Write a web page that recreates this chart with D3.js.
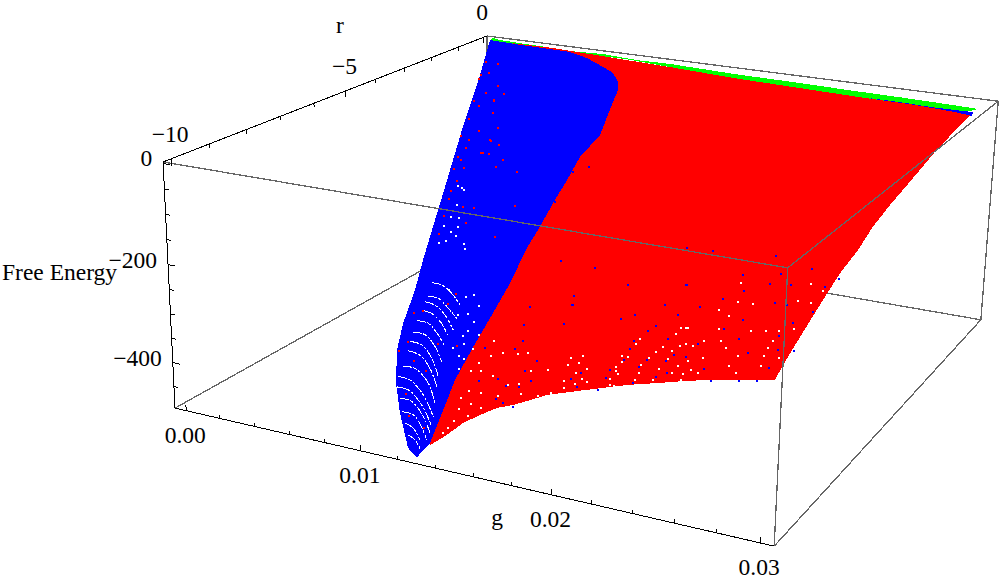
<!DOCTYPE html>
<html>
<head>
<meta charset="utf-8">
<script src="https://cdn.jsdelivr.net/npm/d3@7"></script>
<style>
  html, body { margin: 0; background: #fff; }
  text { font-family: "Liberation Serif", serif; font-size: 23.5px; fill: #000; }
</style>
</head>
<body>
<svg id="chart" width="1000" height="582"></svg>
<script>
const gDomain = [-0.00067, 0.03064];
const rDomain = [-10.2, 0.15];
const fDomain = [-495, 3];
const gTicks = [0, .002, .004, .006, .008, .01, .012, .014, .016, .018, .02, .022, .024, .026, .028, .03];
const rTicks = [0, -1, -2, -3, -4, -5, -6, -7, -8, -9, -10];
const fTicks = [0, -50, -100, -150, -200, -250, -300, -350, -400, -450];
const gLabels = [[0, '0.00'], [.01, '0.01'], [.02, '0.02'], [.03, '0.03']];
const rLabels = [[0, '0'], [-5, '\u22125'], [-10, '\u221210']];
const fLabels = [[0, '0'], [-200, '\u2212200'], [-400, '\u2212400']];

// surface outlines, each vertex is [r, g, free energy]
const greenBand = [[-0.1,.00009,8],[0,.00047,2],[0,.00229,0],[0,.00402,-1],[-0.1,.00529,0],[0,.00729,0],[-0.1,.00962,-1],[-0.1,.0117,0],[-0.2,.01584,-1],[-0.3,.01984,1],[-0.3,.02275,-1],[-0.3,.0256,-2],[-0.4,.02754,0],[-0.5,.0301,1],[-0.7,.02968,-2],[-0.7,.02414,-1],[-0.6,.02018,-1],[-0.5,.01621,-1],[-0.3,.01197,-1],[-0.1,.00898,-2],[-0.2,.00759,1],[-0.2,.00545,-2],[-0.1,.00245,-1],[-0.1,.00064,-2],[-0.3,.00029,3]];
const redRegion = [[0,.00135,-2],[0,.00402,-1],[-0.2,.00759,1],[-0.3,.01197,-1],[-0.5,.01621,-1],[-0.6,.02018,-1],[-0.7,.02414,-1],[-0.7,.02968,-2],[-0.9,.03002,-2],[-2.76,.03,-22],[-4.17,.03,-45],[-5.15,.03,-60],[-5.95,.03,-76],[-6.6,.03,-98],[-7.5,.03012,-109],[-8.2,.03013,-132],[-9.1,.03013,-165],[-9.8,.0302,-186],[-10.1,.03021,-200],[-10.1,.02865,-212],[-10.1,.02638,-231],[-10.1,.02499,-246],[-10.1,.02344,-262],[-10.1,.02153,-286],[-10.1,.01957,-311],[-10.1,.01872,-328],[-10.1,.01787,-344],[-10.1,.01706,-356],[-10.1,.01618,-377],[-10.1,.0153,-400],[-10.1,.01446,-430],[-10.1,.01356,-458],[-9,.01124,-426],[-7.4,.01049,-311],[-4.1,.01086,-90]];
const blueRegion = [[-0.3,.00029,8],[-0.1,.00165,0],[-0.1,.00312,-1],[-0.2,.00545,1],[-0.4,.00685,-2],[-0.8,.00847,-5],[-1.1,.00954,-6],[-1.5,.01044,-12],[-1.9,.01102,-17],[-2.4,.01144,-29],[-3,.01197,-43],[-3.6,.01245,-63],[-4.3,.01233,-91],[-5,.01266,-117],[-5.6,.0128,-146],[-6.2,.01301,-174],[-6.7,.01309,-200],[-7.4,.01329,-246],[-8,.01335,-284],[-8.6,.01327,-330],[-9.1,.01315,-376],[-9.7,.0135,-413],[-10.1,.01356,-454],[-10.1,.01286,-488],[-10,.0122,-480],[-8.9,.00974,-480],[-7.8,.00748,-482],[-7.2,.00645,-444],[-6.9,.00627,-400],[-6.1,.00554,-363],[-5.5,.00496,-322],[-4.8,.00433,-277],[-4.1,.00367,-236],[-3.3,.00297,-181],[-2.6,.00234,-135],[-2,.00184,-96],[-1.1,.00097,-53],[-0.5,.00043,-11]];
const blueStrip = [[-0.7,.0242,0],[-0.7,.026,0],[-0.7,.02783,-2],[-0.7,.03001,-1],[-1,.03022,0],[-0.8,.02923,-3],[-0.7,.02694,-2],[-0.7,.02488,-1]];

// white gaps between the rows of points
const gapArcs = [
  [[-6.2,.00673,-335],[-6.5,.00786,-321],[-7,.00932,-310],[-7.4,.01049,-311]],
  [[-6.5,.00706,-351],[-6.8,.00819,-336],[-7.3,.00965,-328],[-7.7,.01082,-325]],
  [[-6.5,.00686,-364],[-6.9,.00817,-347],[-7.4,.00963,-338],[-8,.01115,-335]],
  [[-6.6,.00684,-379],[-7.1,.00833,-356],[-7.6,.00979,-347],[-8,.01087,-351]],
  [[-6.8,.00694,-393],[-7.3,.00849,-368],[-7.8,.00995,-362],[-8.2,.01103,-362]],
  [[-7,.00706,-409],[-7.5,.00865,-383],[-8,.01012,-377],[-8.5,.01137,-378]],
  [[-7.2,.00722,-420],[-7.7,.00881,-395],[-8.3,.01046,-386],[-8.8,.01171,-393]],
  [[-7.4,.00749,-430],[-7.9,.00908,-407],[-8.5,.01072,-397],[-9,.01198,-403]],
  [[-7.6,.00755,-454],[-8.1,.00915,-426],[-8.8,.01116,-411],[-9.4,.01259,-414]],
  [[-7.7,.00744,-473],[-8.3,.00922,-441],[-9,.01124,-426],[-9.7,.01303,-424]],
  [[-8,.00789,-479],[-8.5,.00949,-451],[-9.2,.0115,-435],[-9.9,.0133,-432]],
  [[-8.5,.00901,-472],[-8.9,.0104,-450],[-9.5,.01213,-440],[-10,.01338,-440]],
  [[-8.9,.00984,-476],[-9.3,.01122,-453],[-9.7,.0124,-450],[-10.1,.01338,-450]],
  [[-9.3,.01075,-474],[-9.6,.01176,-462],[-10,.01285,-459]],
  [[-9.7,.01167,-472],[-9.9,.0124,-467],[-10.1,.01302,-469]]
];

// single points where the surface shows through
const whiteSpecks = [[-6.8,.00878,-311],[-7.3,.0106,-295],[-7.3,.01104,-288],[-7.6,.01068,-320],[-7.7,.01142,-309],[-7.7,.01203,-289],[-8,.01223,-308],[-8.1,.0121,-324],
[-8.2,.01196,-331],[-8.3,.01305,-316],[-8.3,.01158,-354],[-8.4,.0124,-337],[-8.6,.0132,-332],[-8.6,.01247,-351],[-8.8,.01309,-345],[-8.9,.01299,-362],
[-8.6,.01437,-307],[-9,.01424,-335],[-8.9,.01469,-322],[-9,.01547,-306],[-9.1,.01642,-298],[-9.1,.01694,-291],[-9.1,.01396,-350],[-9.2,.01466,-340],
[-9.4,.01561,-334],[-9.7,.01689,-328],[-9.8,.01765,-317],[-9.5,.01776,-303],[-9.6,.01876,-289],[-10.1,.01905,-315],[-10.1,.01971,-304],[-10,.02022,-295],
[-10,.01806,-324],[-9.9,.01671,-343],[-9.7,.01551,-355],[-9.5,.01455,-368],[-9.6,.01428,-379],[-9.8,.01515,-376],[-9.8,.01454,-390],[-10,.01532,-389],
[-10,.01462,-404],[-10.1,.01445,-414],[-10.1,.01418,-426],[-10,.01602,-367],[-3.9,.00429,-212],[-4.1,.00486,-206],[-4.3,.00535,-202],[-4.5,.00522,-230],
[-4.7,.00522,-251],[-5,.00625,-235],[-5.2,.00653,-247],[-4.7,.0048,-273],[-5.2,.00609,-262],[-5.1,.00519,-294],[-5.3,.00596,-279],[-5.4,.00674,-259],
[-5.9,.0081,-251],[-6,.00831,-257],[-9.4,.02023,-260],[-9.4,.01962,-269],[-9.6,.02034,-265],[-9.6,.01976,-273],[-9.7,.02087,-267],[-9.8,.02048,-274],
[-9.9,.02091,-278],[-10,.02132,-275],[-9.9,.02006,-288],[-10,.02074,-284],[-9.5,.02228,-241],[-9.6,.02243,-246],[-9.5,.02255,-241],[-9.7,.02228,-252],
[-9.8,.02243,-255],[-9.9,.02265,-255],[-10,.02245,-261],[-10.1,.0226,-266],[-10.1,.02279,-267],[-9.2,.02273,-218],[-9.3,.02267,-224],[-9.6,.02374,-229],
[-9.7,.02348,-239],[-9.9,.02369,-244],[-10.1,.02377,-249],[-9.5,.02391,-221],[-9.4,.02412,-214],[-9.5,.02467,-214],[-9.4,.02493,-206],[-9.3,.02506,-205],
[-9.6,.02464,-224],[-9.9,.0246,-231],[-10.1,.0246,-241],[-9.8,.02535,-223],[-9.9,.02523,-232],[-9.7,.02568,-216],[-10,.02586,-226],[-10.1,.0257,-244],
[-10.1,.02592,-231],[-9,.02441,-193],[-9,.02473,-190],[-9.1,.02431,-200],[-7.9,.02584,-139],[-8.4,.02632,-154],[-8.4,.02704,-152],[-8.5,.02558,-169],
[-8.7,.02631,-168],[-9,.02465,-191],[-9,.02623,-181],[-9,.02841,-168],[-9,.02902,-164],[-8.9,.02959,-161],[-8.3,.02964,-135],[-8.3,.02905,-136],
[-8,.02983,-123],[-7.8,.02906,-124],[-9.3,.02592,-193],[-9.3,.0267,-188],[-9,.02771,-174],[-9.2,.02896,-175],[-9.4,.02551,-201],[-9.4,.02707,-193],
[-9.4,.02897,-179],[-9.6,.02975,-183],[-9.6,.02625,-210],[-9.6,.02786,-194],[-9.6,.02907,-185],[-9.9,.02611,-220],[-9.8,.02774,-205],[-9.8,.02917,-194],
[-9.9,.02642,-223],[-9.9,.02817,-210]];
const redSpecks = [[-1.1,.00152,-44],[-0.9,.00174,-26],[-1.6,.0029,-54],[-2,.004,-58],[-1.7,.00231,-71],[-2.1,.00348,-72],[-1.9,.00221,-97],[-2.5,.00408,-88],
[-2.8,.00374,-121],[-3,.00523,-102],[-1.1,.00097,-51],[-0.7,.00063,-32],[-1,.00135,-46],[-1.3,.0012,-55],[-2.1,.00352,-73],[-1.7,.00154,-94],
[-2.4,.00392,-90],[-2.1,.0019,-124],[-2.8,.00256,-140],[-3.3,.00532,-122],[-2.9,.00305,-161],[-3.5,.00503,-144],[-3,.00269,-183],[-3.5,.00398,-184],
[-2.7,.00292,-149],[-3.3,.00525,-120],[-3.6,.00633,-117],[-3.6,.00534,-141],[-3.7,.00588,-137],[-3.1,.00307,-184],[-4,.0072,-134],[-4.2,.00713,-144],
[-3.3,.00299,-200],[-4.5,.00889,-135],[-3.7,.00385,-208],[-3.7,.00347,-234],[-4,.00389,-241],[-5.5,.01042,-168],[-4.8,.00611,-219],[-5,.00716,-208],
[-4.3,.0041,-268],[-5.3,.00717,-232],[-4.7,.00444,-294],[-6.1,.01025,-214],[-6.2,.00561,-407],[-6.6,.00684,-379],[-7.1,.0092,-327],[-7.1,.00969,-303],
[-6.9,.00647,-437],[-8,.01021,-368],[-8.4,.01199,-343],[-7.2,.00653,-444],[-7.8,.00851,-425],[-8.4,.01026,-408],[-8.5,.0093,-460],[-9.2,.01076,-461],
[-9.7,.01249,-449]];
const blueSpecks = [[-8.1,.01545,-251],[-8.2,.01785,-226],[-8.5,.0158,-268],[-8.7,.01819,-242],[-8.8,.01623,-285],[-8.7,.01405,-319],[-9,.01612,-294],[-9.4,.01788,-288],
[-9.5,.01745,-306],[-9.5,.01608,-332],[-9.4,.01491,-350],[-9.7,.01808,-311],[-9.7,.0168,-331],[-9.8,.01765,-322],[-9.9,.01662,-350],[-10,.01713,-348],
[-10.1,.0178,-347],[-4.6,.01327,-96],[-4.7,.01247,-107],[-5.6,.01285,-142],[-7.1,.01553,-195],[-7.4,.01782,-182],[-7.9,.02026,-181],[-7.9,.0232,-162],
[-8,.01763,-218],[-8.3,.01797,-222],[-8.4,.02283,-183],[-8.6,.02163,-203],[-8.7,.02108,-211],[-8.7,.01819,-242],[-8.7,.02387,-183],[-8.9,.02307,-203],
[-9,.02284,-210],[-9.2,.02244,-224],[-9.2,.02405,-208],[-9.4,.02254,-230],[-9.6,.02547,-214],[-9.5,.02479,-219],[-9.6,.02254,-241],[-9.6,.02363,-234],
[-9.8,.02354,-239],[-9.7,.02467,-224],[-9.8,.02215,-256],[-10,.02462,-241],[-9.9,.025,-235],[-9.8,.02072,-272],[-9.9,.02209,-266],[-9.9,.02039,-282],
[-10.1,.02099,-284],[-10.1,.02366,-254],[-10.1,.02199,-280],[-7,.02332,-127],[-7,.02199,-131],[-7.1,.02655,-112],[-7.7,.02567,-133],[-7.6,.0274,-123],
[-7.9,.02316,-162],[-8.1,.02626,-144],[-7.9,.02725,-132],[-7.4,.02862,-112],[-7.9,.02823,-128],[-7.9,.02984,-120],[-7.6,.03016,-114],[-8.3,.02548,-158],
[-8.3,.02798,-147],[-8.4,.02863,-143],[-8.5,.02467,-171],[-8.5,.02998,-143],[-8.8,.0271,-165],[-8.8,.02942,-154],[-9,.02644,-180],[-9.1,.02914,-169],
[-9.2,.02743,-183],[-9.3,.02561,-201],[-9.4,.02943,-179],[-9.4,.03015,-176],[-9.9,.02669,-215],[-9.5,.02819,-191],[-9.8,.02955,-194],[-10.1,.0273,-222],
[-10.1,.02858,-212],[-10.1,.02937,-207]];

// camera of the box, unit cube to screen
const camera = [
  [498.4978, 441.4713, -18.10739, 175.0057],
  [67.02873, -111.5888, -252.299, 408.0941],
  [-0.1300458, 0.2667835, -0.03792281, 1]
];

const gScale = d3.scaleLinear().domain(gDomain).range([0, 1]);
const rScale = d3.scaleLinear().domain(rDomain).range([0, 1]);
const fScale = d3.scaleLinear().domain(fDomain).range([0, 1]);

function project(g, r, f) {
  const u = gScale(g), v = rScale(r), w = fScale(f);
  const q = camera.map(c => c[0] * u + c[1] * v + c[2] * w + c[3]);
  return [q[0] / q[2], q[1] / q[2]];
}

const line3 = d3.line().x(d => d[0]).y(d => d[1]);
const surfacePath = pts => line3(pts.map(d => project(d[1], d[0], d[2]))) + 'Z';

const svg = d3.select('#chart');
const [g0, g1] = gDomain, [r0, r1] = rDomain, [f0, f1] = fDomain;

function edges(parent, list, color, width) {
  parent.selectAll(null).data(list).join('path')
    .attr('d', d => line3(d.map(p => project(...p))))
    .attr('fill', 'none')
    .attr('stroke', color)
    .attr('stroke-width', width)
    .attr('shape-rendering', 'crispEdges');
}

// box edges behind the surface
edges(svg.append('g'), [
  [[g0, r1, f1], [g1, r1, f1]],
  [[g0, r1, f1], [g0, r1, f0]],
  [[g0, r0, f0], [g0, r1, f0]],
  [[g0, r1, f0], [g1, r1, f0]]
], '#666', 1.3);

const surface = svg.append('g').attr('shape-rendering', 'crispEdges');
[[greenBand, '#0f0'], [redRegion, '#f00'], [blueStrip, '#00f'], [blueRegion, '#00f']].forEach(([pts, color]) => {
  surface.append('path').attr('d', surfacePath(pts)).attr('fill', color);
});

surface.selectAll(null).data(gapArcs).join('path')
  .attr('d', d => d3.line().curve(d3.curveCatmullRom)(d.map(p => project(p[1], p[0], p[2]))))
  .attr('fill', 'none')
  .attr('stroke', '#fff')
  .attr('stroke-width', 1)
  .attr('stroke-dasharray', '9 1 4 2 2 2');

[[whiteSpecks, '#fff'], [redSpecks, '#f00'], [blueSpecks, '#00f']].forEach(([pts, color]) => {
  surface.append('g').selectAll('rect').data(pts).join('rect')
    .attr('x', d => Math.round(project(d[1], d[0], d[2])[0]))
    .attr('y', d => Math.round(project(d[1], d[0], d[2])[1]))
    .attr('width', 1.6)
    .attr('height', 1.6)
    .attr('fill', color);
});

// front edges of the box
edges(svg.append('g'), [
  [[g0, r0, f1], [g1, r0, f1]],
  [[g1, r0, f1], [g1, r0, f0]],
  [[g1, r0, f1], [g1, r1, f1]],
  [[g1, r0, f0], [g1, r1, f0]],
  [[g1, r1, f0], [g1, r1, f1]]
], '#666', 1.3);

// the three axes with ticks
const isMajor = (v, list) => list.some(l => l[0] === v);
const axes = svg.append('g');
edges(axes, [
  [[g0, r0, f0], [g1, r0, f0]],
  [[g0, r0, f0], [g0, r0, f1]],
  [[g0, r0, f1], [g0, r1, f1]]
], '#000', 1);
edges(axes, gTicks.map(t => [[t, r0, f0], [t, r0, f0 + (isMajor(t, gLabels) ? 12 : 7)]]), '#000', 1);
edges(axes, rTicks.map(t => [[g0, t, f1], [g0, t, f1 - (isMajor(t, rLabels) ? 14 : 8)]]), '#000', 1);
edges(axes, fTicks.map(t => [[g0, r0, t], [g0 + (isMajor(t, fLabels) ? .00042 : .00026), r0, t]]), '#000', 1);

const labels = svg.append('g');
function tickLabels(list, pos, dx, dy, anchor) {
  labels.append('g').selectAll('text').data(list).join('text')
    .attr('x', d => pos(d[0])[0] + dx)
    .attr('y', d => pos(d[0])[1] + dy)
    .attr('text-anchor', anchor)
    .text(d => d[1]);
}
tickLabels(gLabels, t => project(t, r0, f0), -1, 32, 'middle');
tickLabels(rLabels, t => project(g0, t, f1), -1, -17, 'middle');
tickLabels(fLabels, t => project(g0, r0, t), -11, 3, 'end');

labels.append('text').attr('x', 497).attr('y', 525).attr('text-anchor', 'middle').text('g');
labels.append('text').attr('x', 340).attr('y', 33).attr('text-anchor', 'middle').text('r');
labels.append('text').attr('x', 2).attr('y', 280).text('Free Energy');
</script>
</body>
</html>
